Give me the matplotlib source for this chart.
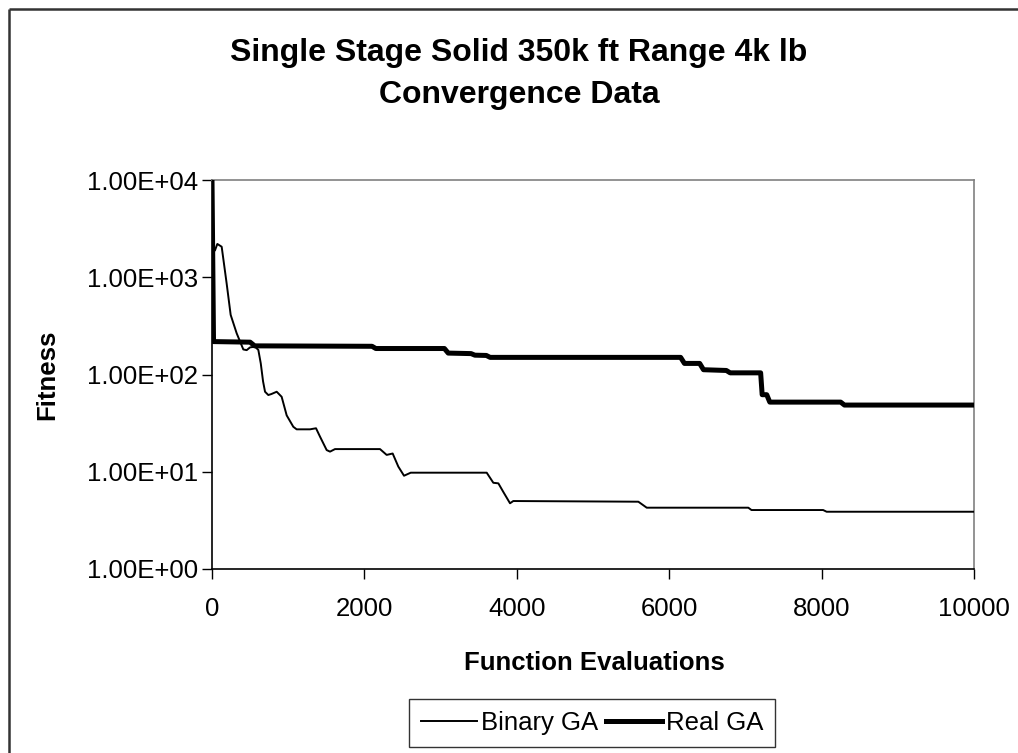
import matplotlib
matplotlib.use("Agg")
import matplotlib.pyplot as plt
from matplotlib.lines import Line2D

plt.rcParams['font.family'] = ['Liberation Sans', 'DejaVu Sans']

title_lines = ["Single Stage Solid 350k ft Range 4k lb", "Convergence Data"]
x_label = "Function Evaluations"
y_label = "Fitness"

binary_x = [40, 70, 127, 192, 245, 324, 411, 455, 499, 564, 608, 640, 670, 696, 739,
            780, 849, 914, 980, 1067, 1111, 1286, 1365, 1417, 1505, 1549, 1614, 2205,
            2292, 2371, 2445, 2520, 2608, 3605, 3692, 3758, 3823, 3911, 3954, 5595,
            5705, 7038, 7080, 8020, 8066, 10000]
binary_y = [1900, 2200, 2060, 866, 410, 265, 181, 178, 190, 193, 179, 130, 85, 66.5,
            61.5, 63, 66.5, 59, 38, 29, 27.3, 27.3, 28, 23, 16.7, 16.1, 17.1, 17.1,
            14.9, 15.4, 11.3, 9.1, 9.78, 9.78, 7.7, 7.6, 6.2, 4.74, 5.0, 4.92, 4.27,
            4.27, 4.04, 4.04, 3.88, 3.88]

real_x = [0, 20, 500, 560, 2100, 2150, 3050, 3100, 3400, 3450, 3600, 3650, 6150,
          6200, 6400, 6450, 6750, 6800, 7200, 7220, 7280, 7320, 8250, 8300, 10000]
real_y = [10000, 218, 215, 197, 195, 185, 185, 166, 164, 158, 157, 150, 150,
          130, 130, 112, 110, 104, 104, 62, 62, 52, 52, 48.5, 48.5]

x_ticks = [0, 2000, 4000, 6000, 8000, 10000]
y_ticks = [1, 10, 100, 1000, 10000]
y_tick_labels = ["1.00E+00", "1.00E+01", "1.00E+02", "1.00E+03", "1.00E+04"]

W, H = 1018, 753
fig = plt.figure(figsize=(W / 100, H / 100), dpi=100)
fig.patch.set_facecolor("white")

# outer chart border: only the left and top edges fall inside the image
bx, by = 8.5 / W, 1 - 8.5 / H
fig.add_artist(Line2D([bx, bx], [0, by], transform=fig.transFigure,
                      color="#333333", lw=1.8, solid_capstyle="butt"))
fig.add_artist(Line2D([bx, 1.0], [by, by], transform=fig.transFigure,
                      color="#333333", lw=1.8, solid_capstyle="butt"))

ax = fig.add_axes([212 / W, 1 - 569 / H, 762 / W, 389 / H])
ax.plot(binary_x, binary_y, color="black", lw=1.4, label="Binary GA", zorder=3)
ax.plot(real_x, real_y, color="black", lw=3.6, label="Real GA", zorder=4)

ax.set_yscale("log")
ax.set_xlim(0, 10000)
ax.set_ylim(1, 10000)
ax.set_xticks(x_ticks)
ax.set_xticklabels([str(v) for v in x_ticks])
ax.set_yticks(y_ticks)
ax.set_yticklabels(y_tick_labels)
ax.yaxis.set_minor_locator(matplotlib.ticker.NullLocator())
ax.tick_params(axis="both", direction="out", length=7, width=1, labelsize=18.5,
               color="black")
ax.tick_params(axis="x", pad=13)
ax.tick_params(axis="y", pad=3)

for s in ["top", "right"]:
    ax.spines[s].set_color("#808080")
for s in ["left", "bottom"]:
    ax.spines[s].set_color("black")
for s in ax.spines.values():
    s.set_linewidth(1.2)

fig.text(519 / W, 1 - 53 / H, title_lines[0], ha="center", va="center",
         fontsize=23, fontweight="bold")
fig.text(519 / W, 1 - 95 / H, title_lines[1], ha="center", va="center",
         fontsize=23, fontweight="bold")
fig.text(47 / W, 1 - 375 / H, y_label, rotation=90, ha="center", va="center",
         fontsize=18.5, fontweight="bold")
fig.text(594 / W, 1 - 663 / H, x_label, ha="center", va="center",
         fontsize=18.5, fontweight="bold")

handles = [Line2D([], [], color="black", lw=1.4), Line2D([], [], color="black", lw=3.6)]
leg = fig.legend(handles, ["Binary GA", "Real GA"], loc="center",
                 bbox_to_anchor=(592 / W, 1 - 723 / H), ncol=2, fontsize=18.5,
                 frameon=True, fancybox=False, shadow=False, handlelength=2.2,
                 handletextpad=0.15, columnspacing=0.3, borderpad=0.45,
                 borderaxespad=0)
leg.get_frame().set_edgecolor("black")
leg.get_frame().set_linewidth(1.0)

fig.savefig("out.png", dpi=100, facecolor="white")
